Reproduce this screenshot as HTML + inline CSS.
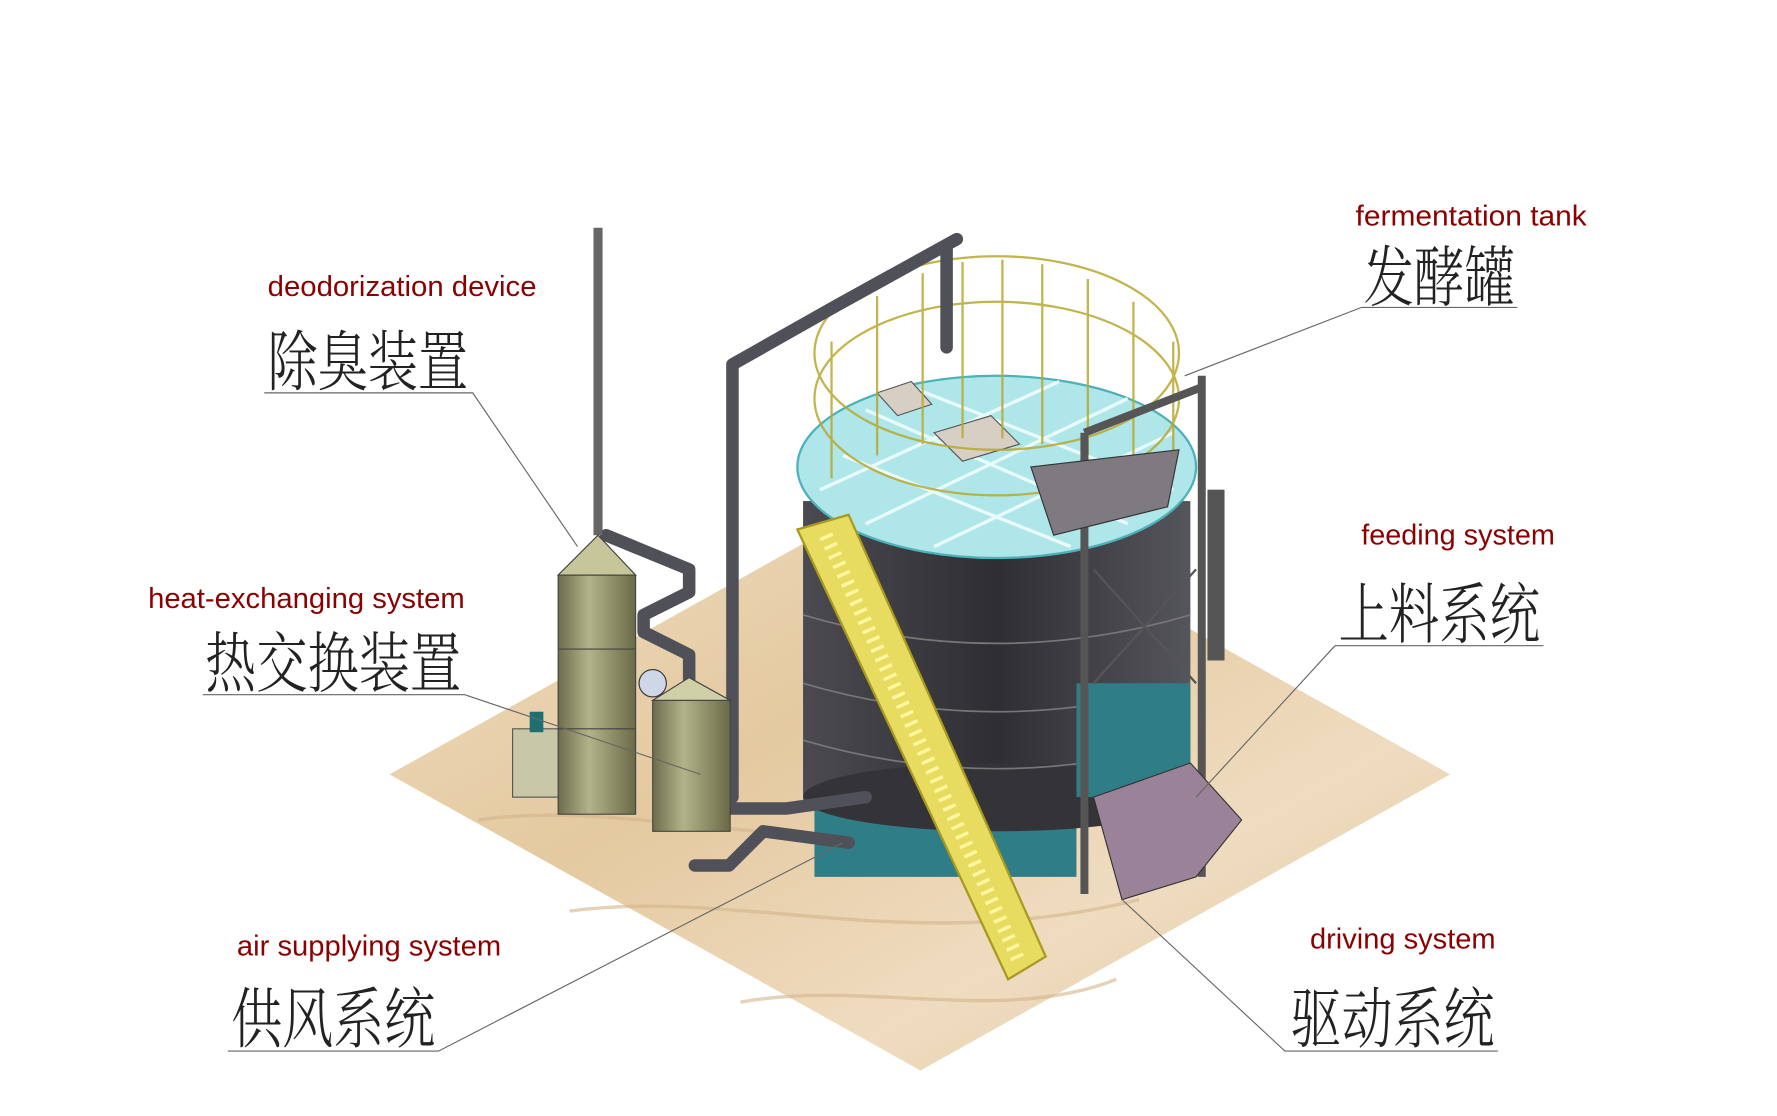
<!DOCTYPE html>
<html><head><meta charset="utf-8"><style>
html,body{margin:0;padding:0;background:#fff;}
svg{display:block;}
.en{font-family:"Liberation Sans",sans-serif;font-size:25px;fill:#8b0000;}
.zh{font-family:"Noto Serif CJK SC","WenQuanYi Zen Hei",serif;font-size:58px;fill:#222;font-weight:300;}
.ld{stroke:#666;stroke-width:1;fill:none;}
</style></head><body>
<svg width="1777" height="1116" viewBox="0 0 1560 980" preserveAspectRatio="none" xmlns="http://www.w3.org/2000/svg">
<defs>
<linearGradient id="fl" x1="0" y1="0" x2="1" y2="1">
<stop offset="0" stop-color="#f0dfc3"/><stop offset="0.4" stop-color="#e4c9a0"/><stop offset="0.7" stop-color="#efdcc0"/><stop offset="1" stop-color="#dfc39a"/></linearGradient>
<linearGradient id="tk" x1="0" x2="1"><stop offset="0" stop-color="#4a4a50"/><stop offset="0.5" stop-color="#2e2e33"/><stop offset="1" stop-color="#55555c"/></linearGradient>
<linearGradient id="ol" x1="0" x2="1"><stop offset="0" stop-color="#6d6d4c"/><stop offset="0.4" stop-color="#b3b38a"/><stop offset="1" stop-color="#6a6a48"/></linearGradient>
</defs>
<polygon points="342,680 808,420 1273,680 808,940" fill="url(#fl)"/>
<path d="M420,720 C560,700 700,760 900,720 M500,800 C650,780 800,840 1000,790 M650,880 C760,860 880,900 980,860" stroke="#d4b48a" stroke-width="3" fill="none" opacity="0.6"/>
<rect x="715" y="670" width="230" height="100" fill="#2f7d86"/>
<rect x="705" y="440" width="340" height="260" fill="url(#tk)"/>
<ellipse cx="875" cy="700" rx="170" ry="30" fill="#333338"/>
<path d="M705,540 Q875,590 1045,540 M705,600 Q875,650 1045,600 M705,650 Q875,700 1045,650" stroke="#777" stroke-width="1.5" fill="none"/>
<rect x="945" y="600" width="100" height="100" fill="#2f7d86"/>
<ellipse cx="875" cy="410" rx="175" ry="80" fill="#aee6ea" stroke="#4cb2b8" stroke-width="2"/>
<path d="M760,360 L990,460 M740,400 L940,480 M800,340 L1030,430 M990,350 L760,460 M1030,380 L820,480 M930,335 L720,430" stroke="#e8fafa" stroke-width="3"/>
<polygon points="770,345 800,335 818,355 788,365" fill="#d8cfc4" stroke="#555"/>
<polygon points="820,380 870,365 895,390 845,405" fill="#d8cfc4" stroke="#555"/>
<g stroke="#b8a830" stroke-width="2" fill="none" opacity="0.85">
<ellipse cx="875" cy="310" rx="160" ry="85"/>
<ellipse cx="875" cy="350" rx="160" ry="85"/>
<path d="M730,300 V420 M770,260 V400 M810,240 V390 M845,230 V385 M880,228 V385 M915,232 V390 M955,245 V400 M995,265 V410 M1030,300 V420"/>
</g>
<g stroke="#505058" stroke-width="11" fill="none" stroke-linecap="round" stroke-linejoin="round">
<path d="M643,700 V320 L735,268 L840,210"/>
<path d="M831,215 V305"/>
<path d="M532,470 L605,500 V520 L565,540 V555 L605,575 V600"/>
<path d="M640,710 L690,710 L760,700 M610,760 L640,760 L670,730 L745,740"/>
</g>
<line x1="525" y1="200" x2="525" y2="470" stroke="#666" stroke-width="8"/>
<rect x="450" y="640" width="48" height="60" fill="#c8c8a8" stroke="#555"/>
<rect x="490" y="505" width="68" height="210" fill="url(#ol)" stroke="#444"/>
<polygon points="490,505 525,470 558,505" fill="#c6c69a" stroke="#444"/>
<path d="M490,570 H558 M490,640 H558" stroke="#444"/>
<rect x="573" y="615" width="68" height="115" fill="url(#ol)" stroke="#444"/>
<polygon points="573,615 605,595 641,615" fill="#d0d0a8" stroke="#444"/>
<circle cx="573" cy="600" r="12" fill="#cfd6e8" stroke="#333"/>
<rect x="465" y="625" width="12" height="18" fill="#1f6f70"/>
<g stroke="#555" stroke-width="7" fill="none">
<path d="M952,380 V785 M1055,330 V770 M952,380 L1055,340"/>
<path d="M960,500 L1050,600 M1050,500 L960,600" stroke-width="2"/>
</g>
<polygon points="905,410 1035,395 1025,445 925,470" fill="#7e7a80" stroke="#333"/>
<polygon points="960,700 1045,670 1090,720 1050,770 985,790" fill="#9a8398" stroke="#333"/>
<rect x="1060" y="430" width="15" height="150" fill="#555"/>
<polygon points="700,465 745,452 918,840 885,860" fill="#e8dc60" stroke="#a89a20" stroke-width="2"/>
<path d="M725,470 L895,845" stroke="#fff6a0" stroke-width="12" stroke-dasharray="3 6"/>
<path class="ld" d="M1195,270 H1332 M1195,270 L1040,330"/>
<path class="ld" d="M232,345 H415 L507,480"/>
<path class="ld" d="M178,610 H408 L615,680"/>
<path class="ld" d="M1172,567 H1355 M1172,567 L1050,700"/>
<path class="ld" d="M200,923 H385 L740,740"/>
<path class="ld" d="M1315,923 H1128 L985,790"/>
<text class="en" x="1190" y="198" textLength="203" lengthAdjust="spacingAndGlyphs">fermentation tank</text>
<text class="zh" x="1197" y="264" textLength="133" lengthAdjust="spacingAndGlyphs">发酵罐</text>
<text class="en" x="235" y="260" textLength="236" lengthAdjust="spacingAndGlyphs">deodorization device</text>
<text class="zh" x="235" y="338" textLength="176" lengthAdjust="spacingAndGlyphs">除臭装置</text>
<text class="en" x="130" y="534" textLength="278" lengthAdjust="spacingAndGlyphs">heat-exchanging system</text>
<text class="zh" x="180" y="603" textLength="225" lengthAdjust="spacingAndGlyphs">热交换装置</text>
<text class="en" x="1195" y="478" textLength="170" lengthAdjust="spacingAndGlyphs">feeding system</text>
<text class="zh" x="1175" y="560" textLength="177" lengthAdjust="spacingAndGlyphs">上料系统</text>
<text class="en" x="208" y="839" textLength="232" lengthAdjust="spacingAndGlyphs">air supplying system</text>
<text class="zh" x="203" y="915" textLength="179" lengthAdjust="spacingAndGlyphs">供风系统</text>
<text class="en" x="1150" y="833" textLength="163" lengthAdjust="spacingAndGlyphs">driving system</text>
<text class="zh" x="1133" y="915" textLength="179" lengthAdjust="spacingAndGlyphs">驱动系统</text>
</svg>
</body></html>
